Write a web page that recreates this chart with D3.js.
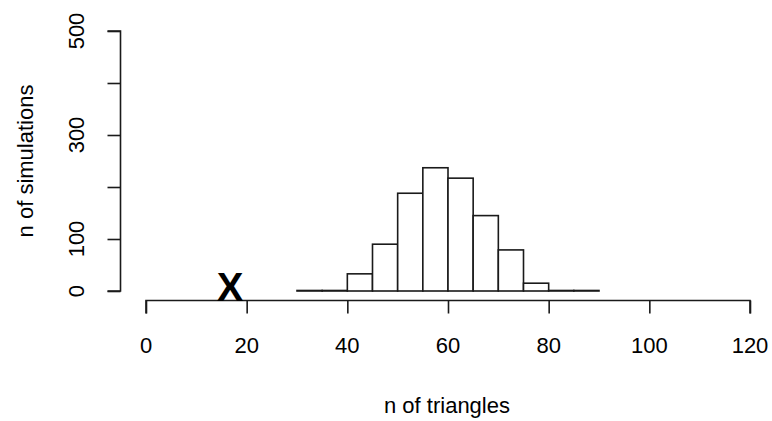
<!DOCTYPE html>
<html>
<head>
<meta charset="utf-8">
<script src="https://cdn.jsdelivr.net/npm/d3@7"></script>
<style>
  body { margin: 0; background: #fff; }
  text { font-family: "Liberation Sans", Arial, sans-serif; fill: #000; }
</style>
</head>
<body>
<svg id="chart" width="772" height="421"></svg>
<script>
// histogram bins (n of triangles) and counts
var binStarts = [30, 35, 40, 45, 50, 55, 60, 65, 70, 75, 80, 85];
var binWidth = 5;
var counts = [1, 1, 33, 90, 188, 237, 217, 145, 79, 15, 1, 1];
var observed = 16.7;
var xTicks = [0, 20, 40, 60, 80, 100, 120];
var yTicks = [0, 100, 200, 300, 400, 500];
var yLabels = [0, 100, 300, 500];

var svg = d3.select('#chart');

var x = d3.scaleLinear().domain([0, 120]).range([146, 750]);
var y = d3.scaleLinear().domain([0, 500]).range([291, 31]);

// bars
svg.append('g')
  .selectAll('rect')
  .data(binStarts)
  .enter()
  .append('rect')
  .attr('x', function(d) { return x(d); })
  .attr('width', function(d) { return x(d + binWidth) - x(d); })
  .attr('y', function(d, i) { return y(counts[i]); })
  .attr('height', function(d, i) { return y(0) - y(counts[i]); })
  .style('fill', 'white')
  .style('stroke', '#1a1a1a')
  .style('stroke-width', 1.6);

// x axis
var xAxis = svg.append('g')
  .attr('transform', 'translate(0,300.5)')
  .call(d3.axisBottom(x).tickValues(xTicks).tickSize(13).tickFormat(''));
xAxis.select('.domain').attr('stroke', '#1a1a1a').attr('stroke-width', 1.6)
  .attr('d', 'M' + x(0) + ',13V0H' + x(120) + 'V13');
xAxis.selectAll('.tick line').attr('stroke', '#1a1a1a').attr('stroke-width', 1.6);

svg.append('g')
  .selectAll('text')
  .data(xTicks)
  .enter()
  .append('text')
  .attr('x', function(d) { return x(d); })
  .attr('y', 353)
  .attr('text-anchor', 'middle')
  .style('font-size', '22px')
  .text(function(d) { return d; });

// y axis
var yAxis = svg.append('g')
  .attr('transform', 'translate(120.5,0)')
  .call(d3.axisLeft(y).tickValues(yTicks).tickSize(13).tickFormat(''));
yAxis.select('.domain').attr('stroke', '#1a1a1a').attr('stroke-width', 1.6)
  .attr('d', 'M-13,' + y(0) + 'H0V' + y(500) + 'H-13');
yAxis.selectAll('.tick line').attr('stroke', '#1a1a1a').attr('stroke-width', 1.6);

svg.append('g')
  .selectAll('text')
  .data(yLabels)
  .enter()
  .append('text')
  .attr('transform', function(d) { return 'translate(84,' + y(d) + ') rotate(-90)'; })
  .attr('text-anchor', 'middle')
  .style('font-size', '22px')
  .text(function(d) { return d; });

// observed value marker
svg.append('text')
  .attr('x', x(observed))
  .attr('y', 301)
  .attr('text-anchor', 'middle')
  .style('font-size', '40px')
  .style('font-weight', 'bold')
  .style('transform-box', 'fill-box')
  .text('X');

// axis titles
svg.append('text')
  .attr('x', 447)
  .attr('y', 413)
  .attr('text-anchor', 'middle')
  .style('font-size', '22px')
  .text('n of triangles');

svg.append('text')
  .attr('transform', 'translate(33,161) rotate(-90)')
  .attr('text-anchor', 'middle')
  .style('font-size', '22px')
  .text('n of simulations');
</script>
</body>
</html>
